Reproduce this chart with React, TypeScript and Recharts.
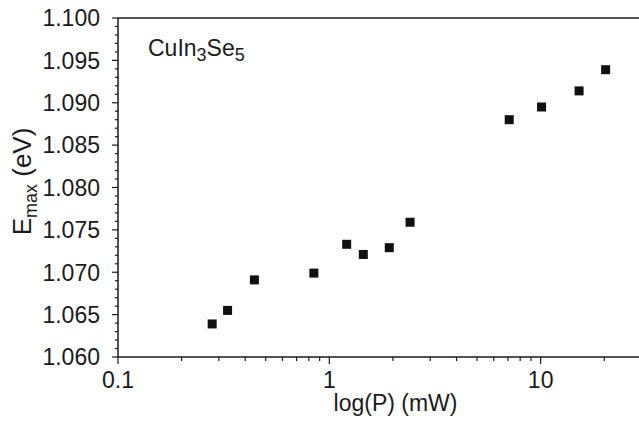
import React from "react";
import { ScatterChart, Scatter, XAxis, YAxis, ReferenceLine } from "recharts";

const powerMw = [0.279, 0.33, 0.442, 0.845, 1.208, 1.448, 1.922, 2.41, 7.1, 10.1, 15.2, 20.3];
const eMax = [1.0639, 1.0655, 1.0691, 1.0699, 1.0733, 1.0721, 1.0729, 1.0759, 1.0880, 1.0895, 1.0914, 1.0939];

const xMajorTicks = [0.1, 1, 10];
const xMinorTicks = [0.2, 0.3, 0.4, 0.5, 0.6, 0.7, 0.8, 0.9, 2, 3, 4, 5, 6, 7, 8, 9, 20];
const yMajorTicks = [1.06, 1.065, 1.07, 1.075, 1.08, 1.085, 1.09, 1.095, 1.1];
const yMinorTicks = Array.from({ length: 41 }, (_, i) => Math.round((1.06 + i * 0.001) * 1000) / 1000);

const xTicks = [...xMajorTicks, ...xMinorTicks].sort((a, b) => a - b);
const yTicks = yMinorTicks;

const data = powerMw.map((p, i) => ({ x: p, y: eMax[i] }));

const FONT = "'Liberation Sans', Arial, Helvetica, sans-serif";
const INK = "#1a1a1a";

const isMajorY = (v: number) => yMajorTicks.some((m) => Math.abs(m - v) < 1e-6);

const YTick = (props: any) => {
  const { x, y, payload } = props;
  const v = payload.value;
  const major = isMajorY(v);
  return (
    <g>
      <line x1={x - (major ? 6 : 3)} x2={x} y1={y} y2={y} stroke={INK} strokeWidth={1.2} />
      {major && (
        <text x={x - 18} y={y} dy="0.36em" textAnchor="end" fontSize={23} fontFamily={FONT} fill={INK}>
          {v.toFixed(3)}
        </text>
      )}
    </g>
  );
};

const XTick = (props: any) => {
  const { x, y, payload } = props;
  const v = payload.value;
  const major = xMajorTicks.includes(v);
  return (
    <g>
      <line x1={x} x2={x} y1={y} y2={y + (major ? 7 : 4)} stroke={INK} strokeWidth={1.2} />
      {major && (
        <text x={x} y={y + 31} textAnchor="middle" fontSize={23} fontFamily={FONT} fill={INK}>
          {String(v)}
        </text>
      )}
    </g>
  );
};

const Square = (props: any) => {
  const { cx, cy } = props;
  return <rect x={cx - 4.5} y={cy - 4.5} width={9} height={9} fill="#111" />;
};

const XLabel = (props: any) => {
  const vb = props.viewBox || { x: 118, y: 357, width: 521 };
  return (
    <text x={vb.x + vb.width / 2 + 17} y={vb.y + 54} textAnchor="middle" fontSize={23} fontFamily={FONT} fill={INK}>
      log(P) (mW)
    </text>
  );
};

const YLabel = (props: any) => {
  const vb = props.viewBox || { x: 0, y: 18, width: 118, height: 339 };
  const cx = vb.x + 31;
  const cy = vb.y + vb.height / 2 - 6;
  return (
    <text
      x={cx}
      y={cy}
      transform={`rotate(-90, ${cx}, ${cy})`}
      textAnchor="middle"
      fontSize={26}
      fontFamily={FONT}
      fill={INK}
    >
      E
      <tspan dy={6} fontSize={18}>max</tspan>
      <tspan dy={-6}> (eV)</tspan>
    </text>
  );
};

const Annotation = (props: any) => {
  const vb = props.viewBox || { x: 118, y: 18 };
  return (
    <text x={vb.x + 30} y={vb.y + 38} fontSize={23} fontFamily={FONT} fill={INK}>
      CuIn
      <tspan dy={5} fontSize={18}>3</tspan>
      <tspan dy={-5}>Se</tspan>
      <tspan dy={5} fontSize={18}>5</tspan>
    </text>
  );
};

export default function App() {
  return (
    <div style={{ position: "absolute", left: 0, top: 0, width: 639, height: 422, background: "#fff" }}>
      <ScatterChart width={639} height={422} margin={{ top: 18, right: 0, bottom: 5, left: 0 }}>
        <XAxis
          dataKey="x"
          type="number"
          scale="log"
          domain={[0.1, 29.2]}
          allowDataOverflow
          ticks={xTicks}
          interval={0}
          tickSize={0}
          tickMargin={0}
          tickLine={false}
          tick={<XTick />}
          axisLine={{ stroke: INK, strokeWidth: 1.5 }}
          height={60}
          label={<XLabel />}
        />
        <YAxis
          dataKey="y"
          type="number"
          domain={[1.06, 1.1]}
          allowDataOverflow
          ticks={yTicks}
          interval={0}
          tickSize={0}
          tickMargin={0}
          tickLine={false}
          tick={<YTick />}
          axisLine={{ stroke: INK, strokeWidth: 1.5 }}
          width={118}
          label={<YLabel />}
        />
        <ReferenceLine y={1.1} stroke="#555" strokeWidth={2} label={<Annotation />} />
        <Scatter data={data} shape={<Square />} isAnimationActive={false} />
      </ScatterChart>
    </div>
  );
}
